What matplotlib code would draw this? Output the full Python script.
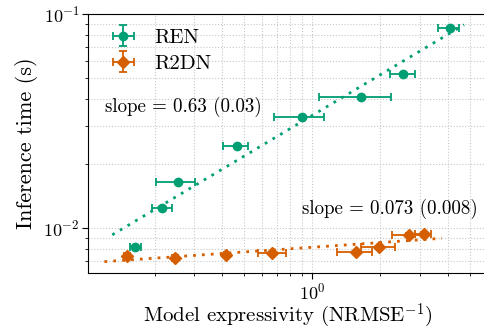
import matplotlib
matplotlib.use("Agg")
import matplotlib.pyplot as plt
import numpy as np

plt.rcParams['font.family'] = 'serif'
plt.rcParams['font.serif'] = ['cmr10', 'DejaVu Serif']
plt.rcParams['mathtext.fontset'] = 'cm'
plt.rcParams['axes.formatter.use_mathtext'] = True

# REN data
ren_x = [0.164, 0.216, 0.254, 0.462, 0.898, 1.64, 2.53, 4.06]
ren_y = [0.00818, 0.01236, 0.0164, 0.0241, 0.0329, 0.0409, 0.0526, 0.0863]
ren_xlo = [0.155, 0.195, 0.203, 0.402, 0.674, 1.069, 2.21, 3.62]
ren_xhi = [0.174, 0.238, 0.303, 0.520, 1.125, 2.23, 2.86, 4.46]
ren_yerr = [0.0001, 0.0001, 0.0001, 0.0002, 0.0002, 0.0002, 0.0003, 0.0005]

# R2DN data
r2_x = [0.151, 0.247, 0.414, 0.663, 1.556, 1.975, 2.67, 3.13]
r2_y = [0.00743, 0.00726, 0.0075, 0.00764, 0.00775, 0.00815, 0.0093, 0.00934]
r2_xlo = [0.146, 0.240, 0.405, 0.574, 1.28, 1.65, 2.26, 2.85]
r2_xhi = [0.156, 0.254, 0.423, 0.762, 1.83, 2.33, 3.11, 3.35]
r2_yerr = [0.0001, 0.0001, 0.0001, 0.0001, 0.0001, 0.0001, 0.0002, 0.0002]

# fits: y = a * x^b
ren_fit = dict(a=0.0336, b=0.63, x0=0.13, x1=4.7)
r2_fit = dict(a=0.00813, b=0.073, x0=0.12, x1=3.75)

green = '#009E73'
orange = '#D55E00'

fig = plt.figure(figsize=(4.84, 3.30), dpi=100)
ax = fig.add_axes([88/484, 57/330, 400/484, 259/330])
ax.set_xscale('log')
ax.set_yscale('log')

def errs(x, lo, hi):
    x = np.array(x); return np.vstack([x - np.array(lo), np.array(hi) - x])

ax.errorbar(ren_x, ren_y, xerr=errs(ren_x, ren_xlo, ren_xhi), yerr=ren_yerr,
            fmt='o', color=green, ms=6, capsize=3, elinewidth=1.3, capthick=1.3,
            label='REN', zorder=3)
ax.errorbar(r2_x, r2_y, xerr=errs(r2_x, r2_xlo, r2_xhi), yerr=r2_yerr,
            fmt='D', color=orange, ms=6, capsize=3, elinewidth=1.3, capthick=1.3,
            label='R2DN', zorder=3)

for f, c in [(ren_fit, green), (r2_fit, orange)]:
    xx = np.logspace(np.log10(f['x0']), np.log10(f['x1']), 50)
    ax.plot(xx, f['a'] * xx ** f['b'], color=c, lw=2.0, ls=(0, (1, 2.2)), zorder=2)

ax.set_xlim(0.1015, 6.0)
ax.set_ylim(0.006163, 0.1)
ax.grid(True, which='both', ls=':', color='#c8c8c8', lw=0.8)
ax.set_axisbelow(True)
ax.spines['right'].set_visible(False)
ax.tick_params(which='both', direction='out', labelsize=13, pad=2)
ax.tick_params(which='major', length=4)
ax.tick_params(which='minor', length=2.5)

ax.set_xlabel('Model expressivity (NRMSE$^{-1}$)', fontsize=15, labelpad=0)
ax.set_ylabel('Inference time (s)', fontsize=16, labelpad=4)

ax.text((105-88)/400, (273-107)/259, 'slope = 0.63 (0.03)', transform=ax.transAxes,
        fontsize=13.6, va='center', ha='left')
ax.text((302-88)/400, (273-209)/259, 'slope = 0.073 (0.008)', transform=ax.transAxes,
        fontsize=13.6, va='center', ha='left')

ax.legend(loc='upper left', frameon=False, fontsize=15, handletextpad=0.5,
          borderaxespad=0.3, labelspacing=0.35)

fig.savefig('out.png', dpi=100)
